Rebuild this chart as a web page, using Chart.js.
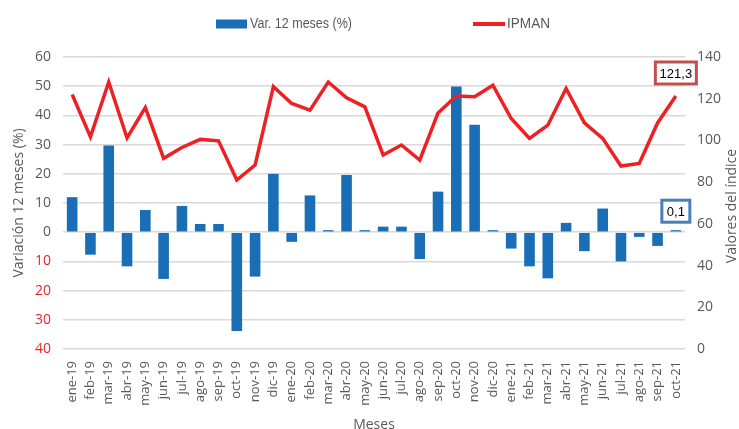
<!DOCTYPE html>
<html>
<head>
<meta charset="utf-8">
<script src="https://cdn.jsdelivr.net/npm/chart.js@4"></script>
<style>
  body { margin: 0; background: #fff; }
  #wrap { width: 739px; height: 429px; }
</style>
</head>
<body>
<div id="wrap"><canvas id="grafico" width="739" height="429"></canvas></div>
<script>
// Meses (ene-19 a oct-21)
const meses = [
  "ene-19", "feb-19", "mar-19", "abr-19", "may-19", "jun-19", "jul-19", "ago-19", "sep-19", "oct-19", "nov-19", "dic-19",
  "ene-20", "feb-20", "mar-20", "abr-20", "may-20", "jun-20", "jul-20", "ago-20", "sep-20", "oct-20", "nov-20", "dic-20",
  "ene-21", "feb-21", "mar-21", "abr-21", "may-21", "jun-21", "jul-21", "ago-21", "sep-21", "oct-21"
];

// Variación 12 meses (%) - barras, eje izquierdo
const variacion = [
  12.0, -7.7, 29.7, -11.7, 7.6, -16.0, 9.0, 2.8, 2.8, -33.8, -15.2, 20.0,
  -3.3, 12.6, 0.7, 19.6, 0.7, 1.9, 1.9, -9.2, 13.9, 49.9, 36.8, 0.5,
  -5.6, -11.7, -15.8, 3.2, -6.5, 8.1, -10.0, -1.6, -4.7, 0.1
];

// IPMAN - línea, eje derecho
const ipman = [
  122.0, 101.7, 128.0, 101.2, 115.8, 91.4, 96.6, 100.5, 99.8, 81.0, 88.2, 125.8,
  117.7, 114.5, 128.0, 120.4, 116.1, 93.0, 97.8, 90.6, 113.2, 121.3, 120.9, 126.5,
  110.5, 101.0, 107.3, 124.9, 108.4, 101.0, 87.7, 89.0, 108.4, 121.3
];

// Ejes: [min, max, paso]
const ejeIzq = [-40, 60, 10];
const ejeDer = [0, 140, 20];
const tituloDer = "Valores del índice";

const gris = "#595959";
const azul = "#1a6eb6";
const rojo = "#ee2024";

// Leyenda dibujada a mano (los items están más separados que en la leyenda de Chart.js)
const leyendaManual = {
  id: "leyendaManual",
  afterDraw(chart) {
    const c = chart.ctx;
    const ds = chart.data.datasets;
    c.save();
    c.font = "14px 'Liberation Sans Narrow', 'Liberation Sans', sans-serif";
    c.textBaseline = "middle";
    // barras
    c.fillStyle = ds[0].backgroundColor;
    c.fillRect(216, 19.5, 31, 9);
    c.fillStyle = gris;
    c.fillText(ds[0].label, 250, 24, 102);
    // línea
    c.strokeStyle = ds[1].borderColor;
    c.lineWidth = 4;
    c.beginPath();
    c.moveTo(473, 24);
    c.lineTo(505, 24);
    c.stroke();
    c.fillText(ds[1].label, 507, 24, 43);
    c.restore();
  }
};

// Título del eje derecho, girado como el del eje izquierdo
const tituloDerecho = {
  id: "tituloDerecho",
  afterDraw(chart) {
    const c = chart.ctx;
    const a = chart.chartArea;
    c.save();
    c.translate(732, (a.top + a.bottom) / 2 + 3);
    c.rotate(-Math.PI / 2);
    c.font = "14px 'Open Sans', sans-serif";
    c.fillStyle = gris;
    c.textAlign = "center";
    c.textBaseline = "middle";
    c.fillText(tituloDer, 0, 0);
    c.restore();
  }
};

// Etiquetas del último dato con recuadro
const etiquetasFinal = {
  id: "etiquetasFinal",
  afterDatasetsDraw(chart) {
    const c = chart.ctx;
    const cajas = [
      { ds: 1, color: "#c0504d", w: 44, h: 25, dy: -23 },
      { ds: 0, color: "#4a7ebb", w: 31, h: 25, dy: -19 }
    ];
    c.save();
    c.font = "13px 'Liberation Sans', sans-serif";
    c.textAlign = "center";
    c.textBaseline = "middle";
    cajas.forEach((b) => {
      const meta = chart.getDatasetMeta(b.ds);
      const el = meta.data[meta.data.length - 1];
      const data = chart.data.datasets[b.ds].data;
      const valor = data[data.length - 1];
      const cx = el.x;
      const cy = el.y + b.dy;
      c.fillStyle = "#fff";
      c.fillRect(cx - b.w / 2, cy - b.h / 2, b.w, b.h);
      c.strokeStyle = b.color;
      c.lineWidth = 3;
      c.strokeRect(cx - b.w / 2 + 1.5, cy - b.h / 2 + 1.5, b.w - 3, b.h - 3);
      c.fillStyle = "#000";
      c.fillText(valor.toFixed(1).replace(".", ","), cx, cy + 1);
    });
    c.restore();
  }
};

const ctx = document.getElementById("grafico").getContext("2d");
const grafico = new Chart(ctx, {
  type: "bar",
  data: {
    labels: meses,
    datasets: [
      {
        type: "bar",
        label: "Var. 12 meses (%)",
        data: variacion,
        backgroundColor: azul,
        yAxisID: "y",
        barPercentage: 0.58,
        categoryPercentage: 1,
        minBarLength: 2,
        order: 2
      },
      {
        type: "line",
        label: "IPMAN",
        data: ipman,
        borderColor: rojo,
        backgroundColor: rojo,
        borderWidth: 3.5,
        pointRadius: 0,
        tension: 0,
        fill: false,
        yAxisID: "y1",
        order: 1
      }
    ]
  },
  options: {
    responsive: false,
    devicePixelRatio: 1,
    animation: false,
    layout: { padding: { top: 57, left: 0, right: 0, bottom: 0 } },
    plugins: {
      legend: { display: false },
      tooltip: { enabled: false }
    },
    scales: {
      x: {
        offset: true,
        grid: { display: false },
        border: { display: false },
        ticks: {
          color: gris,
          font: { family: "'Open Sans', sans-serif", size: 13 },
          minRotation: 90,
          maxRotation: 90,
          autoSkip: false,
          padding: 4
        },
        title: {
          display: true,
          text: "Meses",
          color: gris,
          font: { family: "'Open Sans', sans-serif", size: 14, lineHeight: 1 },
          padding: { top: 0, bottom: -3 }
        },
        afterFit: (s) => { s.height = 80; }
      },
      y: {
        position: "left",
        min: ejeIzq[0],
        max: ejeIzq[1],
        grid: { color: "#d9d9d9", lineWidth: 1.5, drawTicks: false },
        border: { display: false },
        ticks: {
          stepSize: ejeIzq[2],
          padding: 12,
          color: (c) => (c.tick.value < 0 ? "#e8262b" : gris),
          font: { family: "'Open Sans', sans-serif", size: 14 },
          callback: (v) => Math.abs(v)
        },
        title: {
          display: true,
          text: "Variación 12 meses (%)",
          color: gris,
          font: { family: "'Open Sans', sans-serif", size: 14, lineHeight: 1.2 },
          padding: { top: 11, bottom: 0 }
        },
        afterFit: (s) => { s.width = 63; }
      },
      y1: {
        position: "right",
        min: ejeDer[0],
        max: ejeDer[1],
        grid: { display: false, drawTicks: false },
        border: { display: false },
        ticks: {
          stepSize: ejeDer[2],
          padding: 12,
          color: gris,
          font: { family: "'Open Sans', sans-serif", size: 14 }
        },
        title: { display: false },
        afterFit: (s) => { s.width = 54; }
      }
    }
  },
  plugins: [leyendaManual, tituloDerecho, etiquetasFinal]
});
</script>
</body>
</html>
